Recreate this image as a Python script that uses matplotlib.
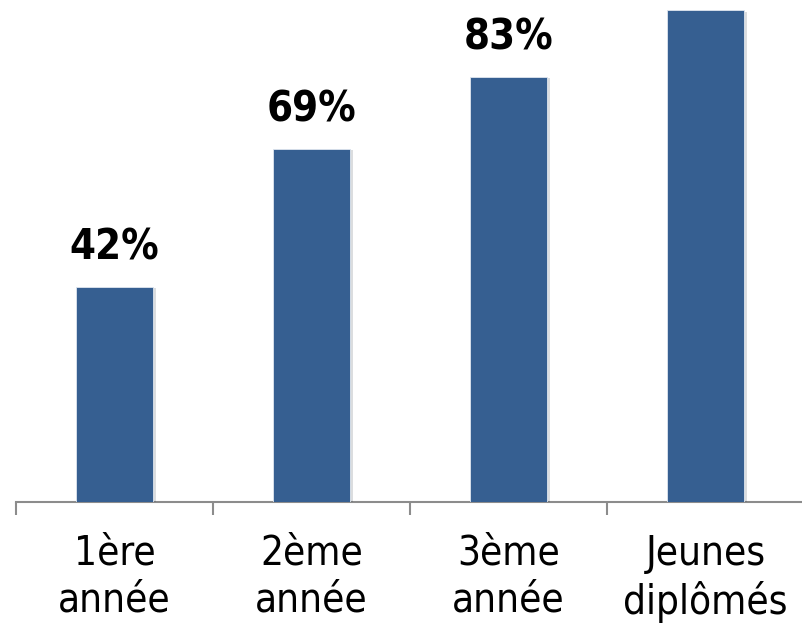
import matplotlib.pyplot as plt
from matplotlib import patheffects as pe

categories = ["1ère\nannée", "2ème\nannée", "3ème\nannée", "Jeunes\ndiplômés"]
valeurs = [42, 69, 83, 96]
# la 4e étiquette sort du cadre dans l'original : pas affichée
etiquettes = ["42%", "69%", "83%", None]

couleur = "#365f91"
gris = "#8c8c8c"

fig = plt.figure(figsize=(8.02, 6.26), dpi=100)
# axe placé en pixels : base à y=502, 5.12 px par point de %
px_pct = 5.12
ymax = 110
ax = fig.add_axes([16 / 802, (626 - 502) / 626, 788 / 802, ymax * px_pct / 626])

x = range(len(categories))
ax.bar(x, valeurs, width=0.39, color=couleur, edgecolor="#dfe6ef", linewidth=0.6,
       path_effects=[pe.SimplePatchShadow(offset=(2, -1), alpha=0.15), pe.Normal()],
       zorder=3)

for i, (v, t) in enumerate(zip(valeurs, etiquettes)):
    if t is None:
        continue
    ax.annotate(t, (i, v), xytext=(0, 13), textcoords="offset points",
                ha="center", va="bottom", fontsize=30, fontweight="bold",
                fontstretch="condensed", family="DejaVu Sans")

ax.set_xlim(-0.5, len(categories) - 0.5)
ax.set_ylim(0, ymax)

for s in ["top", "right", "left"]:
    ax.spines[s].set_visible(False)
ax.spines["bottom"].set_color(gris)
ax.spines["bottom"].set_linewidth(1.5)

ax.set_yticks([])
ax.set_xticks([i - 0.5 for i in range(len(categories) + 1)])
ax.set_xticklabels([])
ax.tick_params(axis="x", which="major", length=9.5, width=1.5, color=gris)
ax.set_xticks(list(x), minor=True)
ax.set_xticklabels(categories, minor=True, fontsize=29, fontstretch="condensed",
                   family="DejaVu Sans", linespacing=1.2)
ax.tick_params(axis="x", which="minor", length=0, pad=23)

fig.savefig("out.png", dpi=100)
